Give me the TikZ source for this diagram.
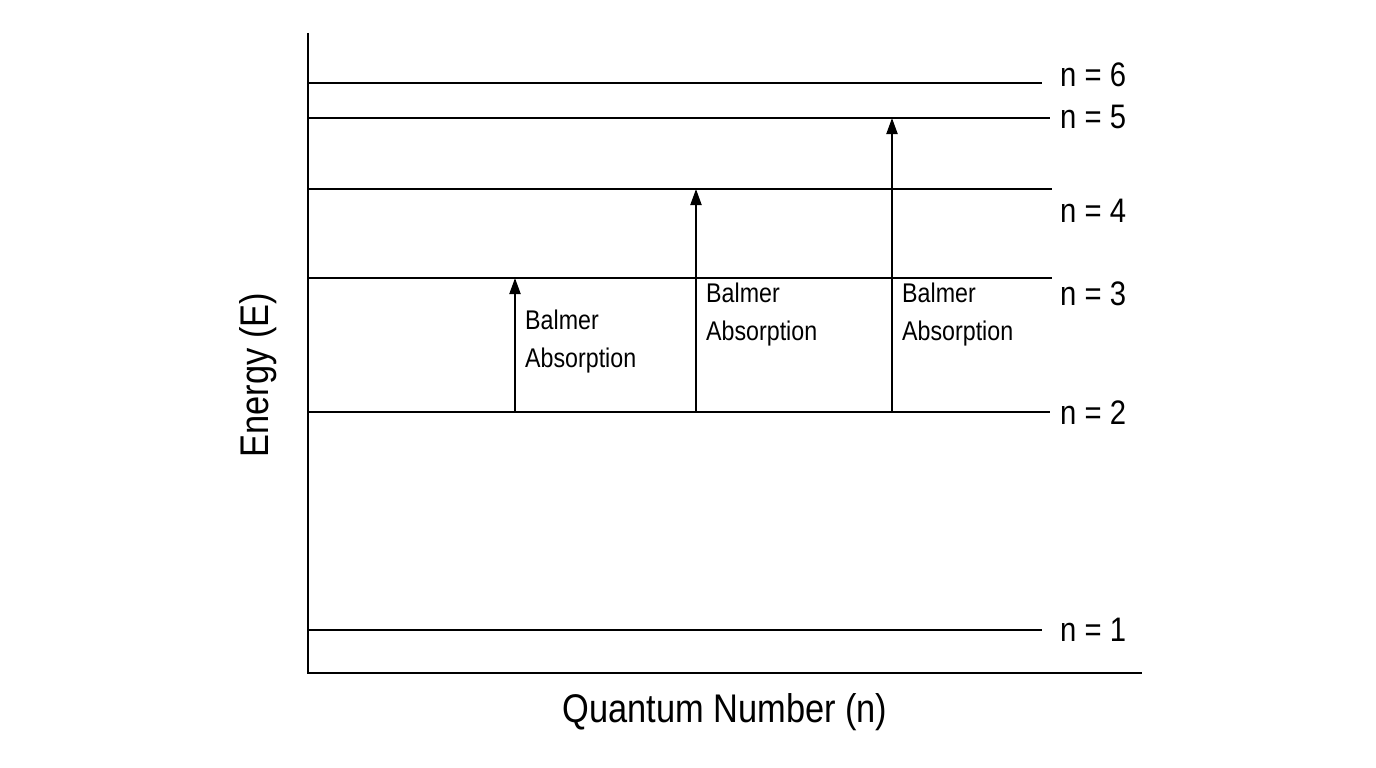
\documentclass[tikz,border=0pt]{standalone}
\usepackage{fontspec}
\setmainfont{Liberation Sans}[FakeStretch=0.86]
\usetikzlibrary{arrows.meta}
\begin{document}
\begin{tikzpicture}[x=1pt,y=-1pt,
  lvl/.style={line width=2pt},
  up/.style={line width=2pt,-{Triangle[length=16pt,width=11pt]}},
  lab/.style={font=\fontsize{34}{36}\selectfont,anchor=west,inner sep=0pt},
  bal/.style={font=\fontsize{27}{38}\selectfont,anchor=north west,align=left,inner sep=0pt}]
\useasboundingbox (0,0) rectangle (1376,768);
\coordinate (o) at (308,673);
\coordinate (yt) at (308,33);
\coordinate (xr) at (1142,673);
\draw[lvl] (yt) -- (o) -- (xr);
\foreach \n/\y/\xe/\ly in {6/83/1042/75,5/118/1050/117,4/189/1052/211,3/278/1052/294,2/412/1050/413,1/630/1042/630}{
  \coordinate (s\n) at (308,\y);
  \coordinate (e\n) at (\xe,\y);
  \draw[lvl] (s\n) -- (e\n);
  \node[lab] (l\n) at (1060,\ly) {n = \n};
}
\foreach \i/\x/\t in {a/515/278,b/696/189,c/892/118}{
  \coordinate (f\i) at (\x,412);
  \coordinate (t\i) at (\x,\t);
  \draw[up] (f\i) -- (t\i);
}
\node[bal] (ba) at (525,310) {Balmer\\Absorption};
\node[bal] (bb) at (706,283) {Balmer\\Absorption};
\node[bal] (bc) at (902,283) {Balmer\\Absorption};
\node[font=\fontsize{40}{44}\selectfont,rotate=90] (ey) at (258,375) {Energy (E)};
\node[font=\fontsize{40}{44}\selectfont] (qx) at (725,712) {Quantum Number (n)};
\end{tikzpicture}
\end{document}
